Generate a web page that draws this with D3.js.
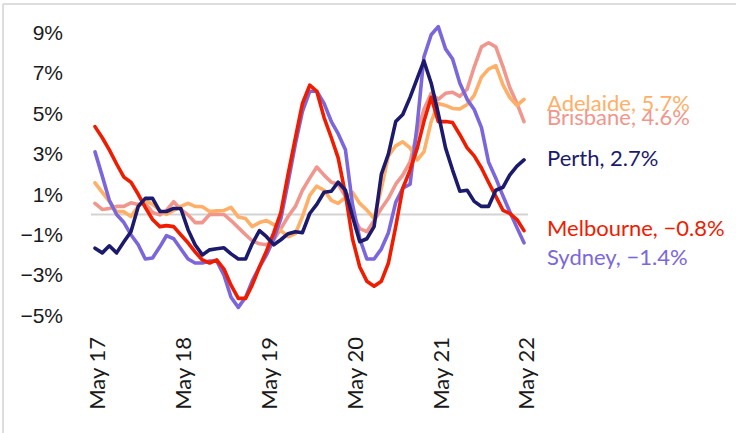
<!DOCTYPE html>
<html>
<head>
<meta charset="utf-8">
<script src="https://cdn.jsdelivr.net/npm/d3@7"></script>
<style>
  html, body { margin: 0; padding: 0; background: #ffffff; }
  svg { display: block; }
</style>
</head>
<body>
<svg id="chart" width="736" height="433"></svg>
<script>
// Annual dwelling value growth by capital city, monthly, May 2017 – May 2022 (%)
const startMonth = new Date(2017, 4, 1);
const monthCount = 61;

const sydney = [3.1, 1.9, 0.7, 0.0, -0.4, -1.0, -1.5, -2.2, -2.15, -1.6, -1.05, -1.2, -1.7, -2.2, -2.4, -2.4,
  -2.3, -2.3, -3.0, -4.1, -4.6, -4.1, -3.3, -2.6, -2.0, -1.2, -0.2, 1.6, 3.5, 5.1, 6.1, 6.1, 5.5, 4.6, 4.0, 3.2,
  0.5, -1.2, -2.2, -2.2, -1.7, -0.9, 0.6, 1.3, 1.5, 4.5, 7.8, 8.9, 9.3, 8.2, 7.7, 6.5, 5.7, 5.2, 4.3, 2.6,
  1.8, 0.9, 0.15, -0.65, -1.4];

const melbourne = [4.35, 3.8, 3.2, 2.5, 1.85, 1.6, 1.0, 0.35, -0.25, -0.6, -0.55, -0.6, -1.0, -1.4, -1.85, -2.25,
  -2.4, -2.25, -2.7, -3.5, -4.15, -4.15, -3.5, -2.6, -1.8, -0.9, 0.1, 2.0, 3.8, 5.5, 6.4, 6.1, 4.8, 3.8, 2.8, 1.0,
  -1.2, -2.6, -3.3, -3.55, -3.3, -2.4, -0.6, 1.3, 2.2, 3.3, 4.6, 5.8, 4.6, 4.6, 4.55, 3.95, 3.3, 2.9, 2.3, 1.6,
  0.9, 0.2, 0.05, -0.25, -0.8];

const brisbane = [0.55, 0.25, 0.3, 0.4, 0.4, 0.58, 0.5, 0.55, 0.1, -0.02, 0.2, 0.63, 0.25, -0.02, -0.4, -0.4,
  0.0, 0.0, 0.0, -0.3, -0.65, -1.0, -1.3, -1.45, -1.5, -1.25, -0.7, -0.1, 0.4, 1.2, 1.8, 2.35, 1.95, 1.6, 1.5, 0.9,
  0.0, -0.7, -0.85, -0.3, 0.3, 0.8, 1.5, 1.95, 2.6, 4.1, 5.2, 6.0, 5.7, 6.0, 6.05, 5.85, 6.2, 7.3, 8.3, 8.5,
  8.3, 7.3, 6.3, 5.5, 4.6];

const adelaide = [1.57, 1.1, 0.65, 0.14, 0.14, -0.1, 0.4, 0.7, 0.5, 0.2, 0.0, 0.2, 0.4, 0.55, 0.4, 0.38,
  0.15, 0.18, 0.2, 0.35, -0.12, -0.2, -0.6, -0.4, -0.3, -0.5, -0.8, -1.1, -0.95, -0.1, 0.95, 1.4, 1.2, 0.7, 0.55, 0.85,
  1.1, 0.55, 0.22, -0.2, 1.3, 2.9, 3.4, 3.6, 3.3, 2.7, 3.1, 4.6, 5.5, 5.4, 5.25, 5.22, 5.45, 5.9, 6.8, 7.2,
  7.37, 6.4, 5.8, 5.4, 5.7];

const perth = [-1.67, -1.9, -1.55, -1.9, -1.35, -0.85, 0.4, 0.8, 0.8, 0.15, 0.15, 0.3, 0.3, -0.75, -1.5, -2.0,
  -1.75, -1.7, -1.65, -1.95, -2.2, -2.2, -1.45, -0.8, -1.1, -1.5, -1.25, -0.95, -0.85, -0.9, 0.05, 0.5, 1.1, 1.15, 1.6, 1.2,
  -0.1, -1.35, -1.2, -0.6, 2.0, 3.0, 4.6, 4.95, 5.8, 6.75, 7.6, 6.5, 5.0, 3.3, 2.2, 1.15, 1.2, 0.65, 0.4, 0.4,
  1.2, 1.35, 1.95, 2.4, 2.7];

const yTicks = [-5, -3, -1, 1, 3, 5, 7, 9];
const xTickYears = [2017, 2018, 2019, 2020, 2021, 2022];

// Drawing order: later series sit on top
const series = [
  { name: "Brisbane",  values: brisbane,  color: "#F0968D", labelDy: -4 },
  { name: "Adelaide",  values: adelaide,  color: "#FFAF68", labelDy: 3.5 },
  { name: "Sydney",    values: sydney,    color: "#7B66DC", labelDy: 15 },
  { name: "Melbourne", values: melbourne, color: "#EF1C00", labelDy: -2 },
  { name: "Perth",     values: perth,     color: "#1B1A6C", labelDy: -1.5 }
];

const dates = d3.range(monthCount).map(i => d3.timeMonth.offset(startMonth, i));

const svg = d3.select("#chart");

// Light frame on the top and left edges
svg.append("line").attr("x1", 3).attr("x2", 736).attr("y1", 4).attr("y2", 4)
  .attr("stroke", "#DCDCE2").attr("stroke-width", 2);
svg.append("line").attr("x1", 3).attr("x2", 3).attr("y1", 4).attr("y2", 433)
  .attr("stroke", "#DCDCE2").attr("stroke-width", 2);

const x = d3.scaleTime()
  .domain([dates[0], dates[dates.length - 1]])
  .range([95, 524]);

const y = d3.scaleLinear()
  .domain([-5, 9])
  .range([315.5, 32.7]);

// Zero reference line
svg.append("line")
  .attr("x1", 91).attr("x2", 528)
  .attr("y1", y(0)).attr("y2", y(0))
  .attr("stroke", "#D3D3D3").attr("stroke-width", 2);

// Y axis labels
const yAxis = d3.axisLeft(y)
  .tickValues(yTicks)
  .tickSize(0)
  .tickPadding(0)
  .tickFormat(d => (d < 0 ? "\u2212" + Math.abs(d) : d) + "%");

const yG = svg.append("g").attr("transform", "translate(63,0)").call(yAxis);
yG.select(".domain").remove();
yG.selectAll("text")
  .attr("font-family", "'Liberation Sans', Arial, sans-serif")
  .attr("font-size", 21)
  .attr("fill", "#1a1a1a");

// X axis labels, rotated
const xAxis = d3.axisBottom(x)
  .tickValues(xTickYears.map(yr => new Date(yr, 4, 1)))
  .tickSize(0)
  .tickPadding(0)
  .tickFormat(d3.timeFormat("May %y"));

const xG = svg.append("g").attr("transform", "translate(0,337)").call(xAxis);
xG.select(".domain").remove();
xG.selectAll("text")
  .attr("font-family", "Lato, 'Noto Sans', sans-serif")
  .attr("font-size", 22)
  .attr("fill", "#1a1a1a")
  .attr("text-anchor", "end")
  .attr("transform", "rotate(-90)")
  .attr("x", 0)
  .attr("y", 2)
  .attr("dy", "0.36em");

// Series lines
const line = d3.line()
  .x((d, i) => x(dates[i]))
  .y(d => y(d));

svg.append("g").selectAll("path")
  .data(series)
  .join("path")
  .attr("d", s => line(s.values))
  .attr("fill", "none")
  .attr("stroke", s => s.color)
  .attr("stroke-width", 3.6)
  .attr("stroke-linejoin", "round")
  .attr("stroke-linecap", "round");

// End labels with the latest value
const fmt = v => (v < 0 ? "\u2212" + Math.abs(v).toFixed(1) : v.toFixed(1)) + "%";
svg.append("g").selectAll("text")
  .data(series)
  .join("text")
  .attr("x", 547)
  .attr("y", s => y(s.values[s.values.length - 1]) + s.labelDy)
  .attr("dy", "0.35em")
  .attr("font-family", "Lato, 'Noto Sans', sans-serif")
  .attr("font-size", 22)
  .attr("fill", s => s.color)
  .text(s => s.name + ", " + fmt(s.values[s.values.length - 1]));
</script>
</body>
</html>
